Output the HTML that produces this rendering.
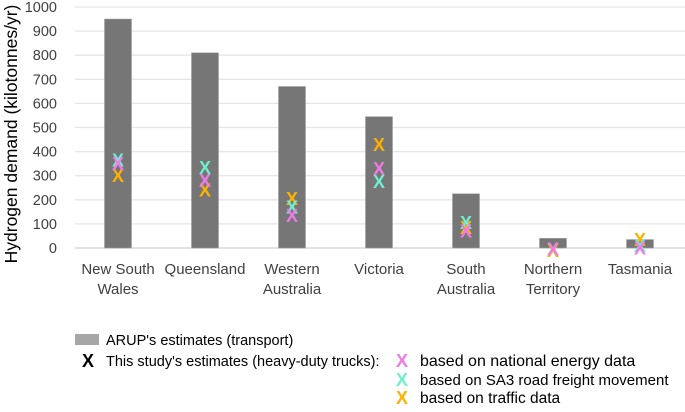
<!DOCTYPE html>
<html><head><meta charset="utf-8"><style>
body{margin:0;background:#fff}
svg text{font-family:"Liberation Sans",sans-serif;fill:#404040}
</style></head><body>
<svg width="685" height="407" xmlns="http://www.w3.org/2000/svg">
<g id="grid"></g><g id="bars"></g><g id="marks"></g><g id="labels"></g>
<text transform="translate(17,134) rotate(-90)" text-anchor="middle" font-size="17.5" style="fill:#000">Hydrogen demand (kilotonnes/yr)</text>
<g font-size="14.5">
<rect x="75" y="334" width="24" height="11" fill="#a6a6a6"/>
<text x="106" y="345" style="fill:#000">ARUP's estimates  (transport)</text>
<text x="88" y="367" text-anchor="middle" font-size="18" font-weight="bold" style="fill:#000">X</text>
<text x="106" y="366" style="fill:#000">This study's estimates (heavy-duty trucks):</text>
<text x="402" y="367" text-anchor="middle" font-size="18" font-weight="bold" style="fill:#f07ae8">X</text>
<text x="420" y="366" font-size="16" style="fill:#000">based on national energy data</text>
<text x="402" y="386" text-anchor="middle" font-size="18" font-weight="bold" style="fill:#6ef0d0">X</text>
<text x="420" y="385" font-size="15" style="fill:#000">based on SA3 road freight movement</text>
<text x="402" y="404" text-anchor="middle" font-size="18" font-weight="bold" style="fill:#ffb000">X</text>
<text x="420" y="403" font-size="15.5" style="fill:#000">based on traffic data</text>
</g>
</svg>
<script>
const categories=[["New South","Wales"],["Queensland"],["Western","Australia"],["Victoria"],["South","Australia"],["Northern","Territory"],["Tasmania"]];
const arup=[950,810,670,545,225,40,35];
const national=[350,280,135,330,70,-5,0];
const sa3=[365,335,170,275,105,-5,10];
const traffic=[300,240,205,430,85,-10,35];
const yTicks=[0,100,200,300,400,500,600,700,800,900,1000];
const NS="http://www.w3.org/2000/svg";
const y=v=>248-v*0.241;
const x=i=>118+i*87;
function mk(t,a,p){const e=document.createElementNS(NS,t);for(const k in a)e.setAttribute(k,a[k]);p.appendChild(e);return e;}
const grid=document.getElementById('grid'),bars=document.getElementById('bars'),marks=document.getElementById('marks'),labels=document.getElementById('labels');
yTicks.forEach(v=>{
 const l=mk('line',{x1:75,x2:685,y1:y(v),y2:y(v),stroke:v===0?'#d0d0d0':'#e6e6e6','stroke-width':1.3},grid);
 
 
 const t=mk('text',{x:57,y:y(v)+5,'text-anchor':'end','font-size':14.5},labels);
 t.textContent=v;
 
 
});
arup.forEach((v,i)=>{
 const r=mk('rect',{x:x(i)-13.5,y:y(v),width:27,height:y(0)-y(v),fill:'#767676',stroke:'#a0a0a0','stroke-width':0.6},bars);
 
 
 const t=mk('text',{x:x(i),'text-anchor':'middle','font-size':15},labels);
 
 
 categories[i].forEach((s,j)=>{const ts=mk('tspan',{x:x(i),y:274+j*20},t);ts.textContent=s;});
});
[[traffic,'#ffb000'],[sa3,'#6ef0d0'],[national,'#f07ae8']].forEach(([arr,c])=>{
 arr.forEach((v,i)=>{
  const t=mk('text',{x:x(i),y:y(v)+6.5,'text-anchor':'middle','font-size':18,'font-weight':'bold',style:'fill:'+c},marks);
  t.textContent='X';
  
  
 });
});
</script>
</body></html>
